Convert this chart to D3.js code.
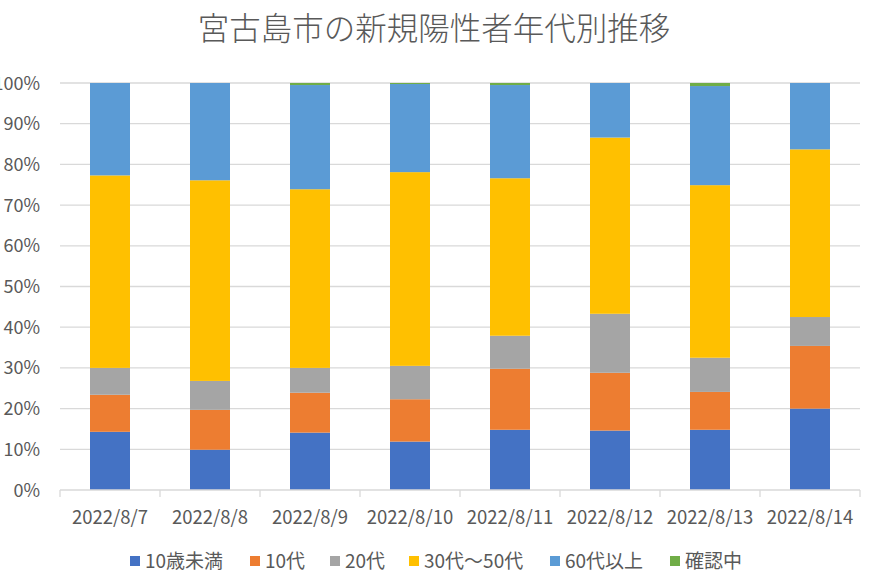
<!DOCTYPE html>
<html>
<head>
<meta charset="utf-8">
<script src="https://cdn.jsdelivr.net/npm/d3@7"></script>
<style>
  html, body { margin: 0; padding: 0; background: #fff; }
  svg { display: block; }
  text { font-family: "Noto Sans CJK JP", "Noto Sans", sans-serif; fill: #595959; }
</style>
</head>
<body>
<svg id="chart" width="873" height="584"></svg>
<script>
const title = "宮古島市の新規陽性者年代別推移";
const categories = ["2022/8/7","2022/8/8","2022/8/9","2022/8/10","2022/8/11","2022/8/12","2022/8/13","2022/8/14"];
const seriesNames = ["10歳未満","10代","20代","30代～50代","60代以上","確認中"];
const colors = ["#4472C4","#ED7D31","#A5A5A5","#FFC000","#5B9BD5","#70AD47"];
const under10   = [14.3, 9.9, 14.1, 11.9, 14.8, 14.6, 14.8, 20.0];
const teens     = [9.1, 9.8, 9.8, 10.4, 15.0, 14.2, 9.3, 15.4];
const twenties  = [6.6, 7.1, 6.1, 8.2, 8.1, 14.5, 8.4, 7.1];
const s30to50   = [47.3, 49.3, 43.9, 47.6, 38.7, 43.3, 42.4, 41.2];
const over60    = [22.7, 23.9, 25.6, 21.65, 22.9, 13.4, 24.35, 16.3];
const unknown   = [0, 0, 0.5, 0.25, 0.5, 0, 0.75, 0];
const yTicks = [0, 0.1, 0.2, 0.3, 0.4, 0.5, 0.6, 0.7, 0.8, 0.9, 1.0];

const seriesValues = [under10, teens, twenties, s30to50, over60, unknown];
const rows = categories.map((c, i) => {
  const r = { cat: c };
  seriesNames.forEach((s, j) => r[s] = seriesValues[j][i]);
  return r;
});

const svg = d3.select("#chart");
const margin = { left: 60, right: 13, top: 83, bottom: 94 };
const W = 873, H = 584;
const x = d3.scaleBand().domain(categories).range([margin.left, W - margin.right]).paddingInner(0.6).paddingOuter(0.3);
const xb = d3.scaleBand().domain(categories).range([margin.left, W - margin.right]);
const y = d3.scaleLinear().domain([0, 1]).range([H - margin.bottom, margin.top]);

// gridlines
svg.append("g").selectAll("line").data(yTicks.slice(1)).join("line")
  .attr("x1", margin.left).attr("x2", W - margin.right)
  .attr("y1", d => y(d)).attr("y2", d => y(d))
  .attr("stroke", "#d9d9d9").attr("stroke-width", 1.3);

// stacked bars
const stack = d3.stack().keys(seriesNames).offset(d3.stackOffsetExpand);
const stacked = stack(rows);
svg.append("g").selectAll("g").data(stacked).join("g")
  .attr("fill", (d, i) => colors[i])
  .selectAll("rect").data(d => d).join("rect")
  .attr("x", d => x(d.data.cat))
  .attr("width", x.bandwidth())
  .attr("y", d => y(d[1]))
  .attr("height", d => Math.max(0, y(d[0]) - y(d[1])));

// x axis
const xAxis = svg.append("g");
xAxis.append("line")
  .attr("x1", margin.left).attr("x2", W - margin.right)
  .attr("y1", y(0)).attr("y2", y(0))
  .attr("stroke", "#d9d9d9").attr("stroke-width", 1.3);
const bounds = categories.map(c => xb(c)).concat([W - margin.right]);
xAxis.selectAll("line.tick").data(bounds).join("line").attr("class", "tick")
  .attr("x1", d => d).attr("x2", d => d)
  .attr("y1", y(0)).attr("y2", y(0) + 7)
  .attr("stroke", "#d9d9d9").attr("stroke-width", 1.3);
xAxis.selectAll("text").data(categories).join("text")
  .attr("x", d => xb(d) + xb.bandwidth() / 2)
  .attr("y", y(0) + 34)
  .attr("text-anchor", "middle")
  .attr("font-size", 18.5)
  .text(d => d);

// y axis labels
svg.append("g").selectAll("text").data(yTicks).join("text")
  .attr("x", 40).attr("y", d => y(d) + 6.5)
  .attr("text-anchor", "end")
  .attr("font-size", 18)
  .text(d => d3.format(".0%")(d));

// title
svg.append("text").attr("x", 434).attr("y", 40)
  .attr("text-anchor", "middle").attr("font-size", 31.5).attr("font-weight", 300)
  .text(title);

// legend
const legendX = [130, 250, 330, 409, 550, 670];
const lg = svg.append("g").selectAll("g").data(seriesNames).join("g")
  .attr("transform", (d, i) => `translate(${legendX[i]},561)`);
lg.append("rect").attr("x", 0).attr("y", -5).attr("width", 10).attr("height", 10)
  .attr("fill", (d, i) => colors[i]);
lg.append("text").attr("x", 15).attr("y", 7).attr("font-size", 19).text(d => d);
</script>
</body>
</html>
